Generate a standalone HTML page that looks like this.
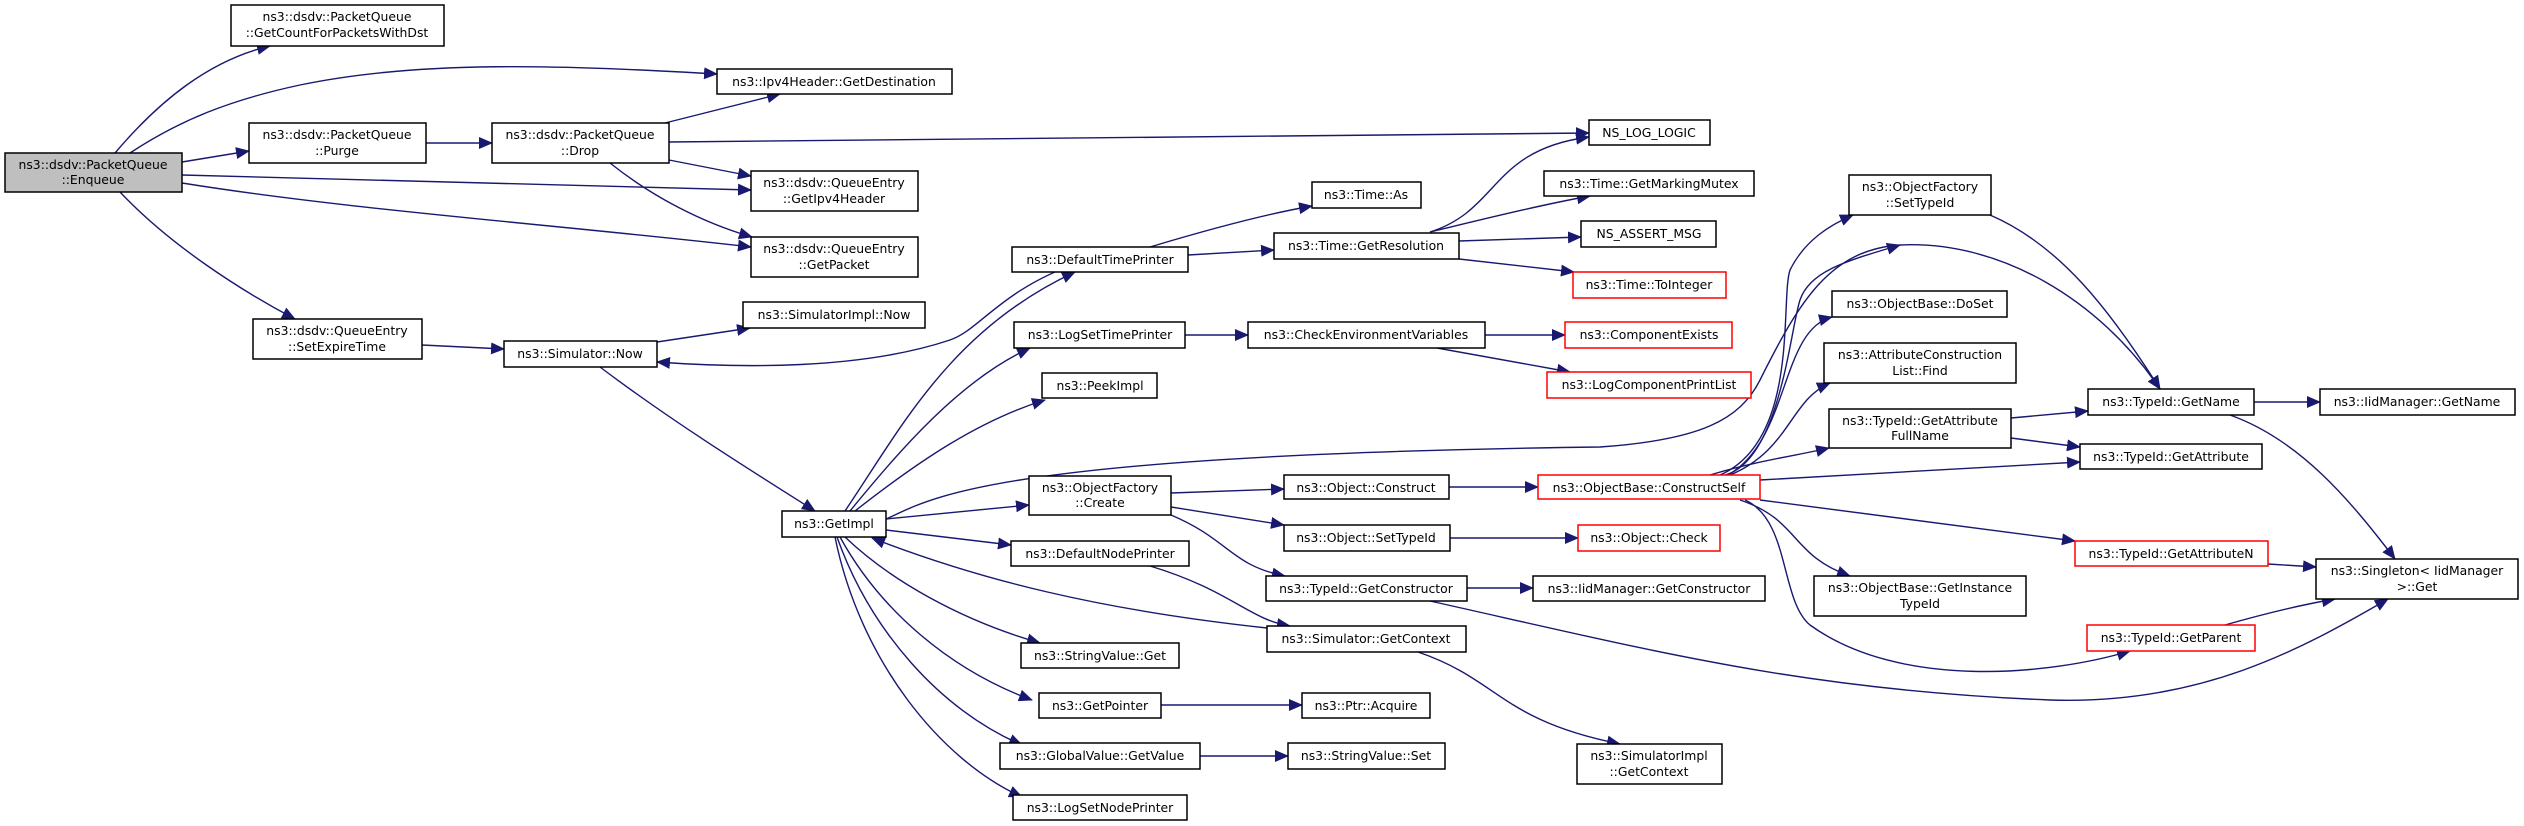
<!DOCTYPE html>
<html><head><meta charset="utf-8"><style>
html,body{margin:0;padding:0;background:#fff;}
svg{display:block;}
text{font-family:"DejaVu Sans","Liberation Sans",sans-serif;font-size:12.4px;fill:#000;text-anchor:middle;}
.n{fill:#fff;stroke:#000;stroke-width:1.5;}
.g{fill:#bfbfbf;stroke:#000;stroke-width:1.5;}
.r{fill:#fff;stroke:#ff0000;stroke-width:1.5;}
.e{fill:none;stroke:#191970;stroke-width:1.4;}
</style></head><body>
<svg width="2524" height="826" viewBox="0 0 2524 826" xmlns="http://www.w3.org/2000/svg">
<defs><marker id="a" markerUnits="userSpaceOnUse" markerWidth="14" markerHeight="12" refX="13" refY="6" orient="auto"><path d="M0,0 L14,6 L0,12 z" fill="#191970"/></marker></defs>
<g class="edges">
<path class="e" marker-end="url(#a)" d="M115,153 C160,100 210,60 270,46"/>
<path class="e" marker-end="url(#a)" d="M130,153 C180,120 230,100 300,85 C420,60 560,65 717,74"/>
<path class="e" marker-end="url(#a)" d="M182,162 L249,151"/>
<path class="e" marker-end="url(#a)" d="M182,175 L751,190"/>
<path class="e" marker-end="url(#a)" d="M182,183 C350,210 560,225 751,247"/>
<path class="e" marker-end="url(#a)" d="M120,192 C170,245 240,290 295,319"/>
<path class="e" marker-end="url(#a)" d="M426,143 L492,143"/>
<path class="e" marker-end="url(#a)" d="M665,123 L780,94"/>
<path class="e" marker-end="url(#a)" d="M669,142 L1589,133"/>
<path class="e" marker-end="url(#a)" d="M669,160 L751,176"/>
<path class="e" marker-end="url(#a)" d="M610,163 C650,195 700,222 752,237"/>
<path class="e" marker-end="url(#a)" d="M422,345 L504,349"/>
<path class="e" marker-end="url(#a)" d="M657,342 L750,328"/>
<path class="e" marker-end="url(#a)" d="M600,367 C670,420 750,470 815,511"/>
<path class="e" marker-end="url(#a)" d="M1080,262 C1000,290 980,330 950,340 C860,370 740,368 657,362"/>
<path class="e" marker-end="url(#a)" d="M845,511 C900,430 950,330 1075,272"/>
<path class="e" marker-end="url(#a)" d="M850,511 C900,450 960,380 1030,348"/>
<path class="e" marker-end="url(#a)" d="M855,511 C920,460 980,420 1045,400"/>
<path class="e" marker-end="url(#a)" d="M886,519 C930,500 980,455 1600,447 C1700,440 1740,420 1760,380 C1800,300 1830,250 1900,245 C2000,240 2100,300 2160,389"/>
<path class="e" marker-end="url(#a)" d="M886,519 L1029,505"/>
<path class="e" marker-end="url(#a)" d="M886,530 L1011,545"/>
<path class="e" marker-end="url(#a)" d="M1267,628 C1100,610 980,580 872,538"/>
<path class="e" marker-end="url(#a)" d="M845,537 C890,580 960,620 1040,643"/>
<path class="e" marker-end="url(#a)" d="M840,537 C880,610 950,670 1032,700"/>
<path class="e" marker-end="url(#a)" d="M837,537 C870,630 940,710 1022,745"/>
<path class="e" marker-end="url(#a)" d="M835,537 C860,660 940,760 1022,797"/>
<path class="e" marker-end="url(#a)" d="M1150,247 C1200,232 1260,215 1312,206"/>
<path class="e" marker-end="url(#a)" d="M1188,255 L1274,250"/>
<path class="e" marker-end="url(#a)" d="M1430,232 C1500,210 1490,150 1589,137"/>
<path class="e" marker-end="url(#a)" d="M1430,232 C1480,220 1540,205 1590,196"/>
<path class="e" marker-end="url(#a)" d="M1459,241 L1581,237"/>
<path class="e" marker-end="url(#a)" d="M1459,259 L1574,272"/>
<path class="e" marker-end="url(#a)" d="M1185,335 L1248,335"/>
<path class="e" marker-end="url(#a)" d="M1485,335 L1565,335"/>
<path class="e" marker-end="url(#a)" d="M1437,348 L1570,372"/>
<path class="e" marker-end="url(#a)" d="M1171,493 L1284,489"/>
<path class="e" marker-end="url(#a)" d="M1171,507 L1284,525"/>
<path class="e" marker-end="url(#a)" d="M1171,515 C1230,540 1230,565 1285,576"/>
<path class="e" marker-end="url(#a)" d="M1449,487 L1538,487"/>
<path class="e" marker-end="url(#a)" d="M1450,538 L1578,538"/>
<path class="e" marker-end="url(#a)" d="M1467,588 L1533,588"/>
<path class="e" marker-end="url(#a)" d="M1430,601 C1650,650 1800,690 2050,700 C2200,705 2300,650 2388,599"/>
<path class="e" marker-end="url(#a)" d="M1150,566 C1230,590 1250,620 1290,626"/>
<path class="e" marker-end="url(#a)" d="M1418,652 C1500,680 1500,720 1620,744"/>
<path class="e" marker-end="url(#a)" d="M1161,705 L1302,705"/>
<path class="e" marker-end="url(#a)" d="M1200,756 L1288,756"/>
<path class="e" marker-end="url(#a)" d="M1720,475 C1800,440 1780,300 1790,270 C1805,240 1830,225 1853,215"/>
<path class="e" marker-end="url(#a)" d="M1725,475 C1780,460 1790,330 1800,300 C1810,270 1850,260 1900,245"/>
<path class="e" marker-end="url(#a)" d="M1728,475 C1790,440 1780,330 1832,317"/>
<path class="e" marker-end="url(#a)" d="M1730,475 C1790,450 1790,400 1830,383"/>
<path class="e" marker-end="url(#a)" d="M1710,475 C1760,460 1800,455 1829,448"/>
<path class="e" marker-end="url(#a)" d="M1760,480 L2080,462"/>
<path class="e" marker-end="url(#a)" d="M1760,500 L2075,541"/>
<path class="e" marker-end="url(#a)" d="M1740,500 C1800,520 1790,555 1850,576"/>
<path class="e" marker-end="url(#a)" d="M1745,500 C1790,520 1780,600 1810,625 C1900,690 2050,675 2130,651"/>
<path class="e" marker-end="url(#a)" d="M1990,215 C2060,245 2110,310 2160,389"/>
<path class="e" marker-end="url(#a)" d="M2011,418 L2088,411"/>
<path class="e" marker-end="url(#a)" d="M2011,438 L2080,447"/>
<path class="e" marker-end="url(#a)" d="M2254,402 L2320,402"/>
<path class="e" marker-end="url(#a)" d="M2230,415 C2300,440 2350,500 2395,559"/>
<path class="e" marker-end="url(#a)" d="M2268,564 L2316,567"/>
<path class="e" marker-end="url(#a)" d="M2225,625 C2260,615 2300,605 2335,599"/>
</g>
<g>
<rect class="g" x="5" y="153" width="177" height="39"/><text x="93" y="169">ns3::dsdv::PacketQueue</text><text x="93" y="184">::Enqueue</text>
<rect class="n" x="231" y="5" width="213" height="41"/><text x="337" y="21">ns3::dsdv::PacketQueue</text><text x="337" y="37">::GetCountForPacketsWithDst</text>
<rect class="n" x="717" y="69" width="235" height="25"/><text x="834" y="86">ns3::Ipv4Header::GetDestination</text>
<rect class="n" x="249" y="123" width="177" height="40"/><text x="337" y="139">ns3::dsdv::PacketQueue</text><text x="337" y="155">::Purge</text>
<rect class="n" x="492" y="123" width="177" height="40"/><text x="580" y="139">ns3::dsdv::PacketQueue</text><text x="580" y="155">::Drop</text>
<rect class="n" x="751" y="171" width="167" height="40"/><text x="834" y="187">ns3::dsdv::QueueEntry</text><text x="834" y="203">::GetIpv4Header</text>
<rect class="n" x="751" y="237" width="167" height="40"/><text x="834" y="253">ns3::dsdv::QueueEntry</text><text x="834" y="269">::GetPacket</text>
<rect class="n" x="253" y="319" width="169" height="40"/><text x="337" y="335">ns3::dsdv::QueueEntry</text><text x="337" y="351">::SetExpireTime</text>
<rect class="n" x="743" y="302" width="182" height="26"/><text x="834" y="319">ns3::SimulatorImpl::Now</text>
<rect class="n" x="504" y="341" width="153" height="26"/><text x="580" y="358">ns3::Simulator::Now</text>
<rect class="n" x="782" y="511" width="104" height="26"/><text x="834" y="528">ns3::GetImpl</text>
<rect class="n" x="1589" y="120" width="121" height="25"/><text x="1649" y="137">NS_LOG_LOGIC</text>
<rect class="n" x="1312" y="182" width="109" height="26"/><text x="1366" y="199">ns3::Time::As</text>
<rect class="n" x="1544" y="171" width="210" height="25"/><text x="1649" y="188">ns3::Time::GetMarkingMutex</text>
<rect class="n" x="1012" y="247" width="176" height="25"/><text x="1100" y="264">ns3::DefaultTimePrinter</text>
<rect class="n" x="1274" y="233" width="185" height="26"/><text x="1366" y="250">ns3::Time::GetResolution</text>
<rect class="n" x="1581" y="221" width="135" height="26"/><text x="1649" y="238">NS_ASSERT_MSG</text>
<rect class="r" x="1573" y="272" width="153" height="26"/><text x="1649" y="289">ns3::Time::ToInteger</text>
<rect class="n" x="1014" y="322" width="171" height="26"/><text x="1100" y="339">ns3::LogSetTimePrinter</text>
<rect class="n" x="1248" y="322" width="237" height="26"/><text x="1366" y="339">ns3::CheckEnvironmentVariables</text>
<rect class="r" x="1565" y="322" width="167" height="26"/><text x="1649" y="339">ns3::ComponentExists</text>
<rect class="r" x="1547" y="372" width="204" height="26"/><text x="1649" y="389">ns3::LogComponentPrintList</text>
<rect class="n" x="1042" y="373" width="115" height="25"/><text x="1100" y="390">ns3::PeekImpl</text>
<rect class="n" x="1029" y="476" width="142" height="39"/><text x="1100" y="492">ns3::ObjectFactory</text><text x="1100" y="507">::Create</text>
<rect class="n" x="1284" y="475" width="165" height="24"/><text x="1366" y="492">ns3::Object::Construct</text>
<rect class="r" x="1538" y="475" width="222" height="24"/><text x="1649" y="492">ns3::ObjectBase::ConstructSelf</text>
<rect class="n" x="1284" y="525" width="166" height="26"/><text x="1366" y="542">ns3::Object::SetTypeId</text>
<rect class="r" x="1578" y="525" width="142" height="26"/><text x="1649" y="542">ns3::Object::Check</text>
<rect class="n" x="1011" y="541" width="178" height="25"/><text x="1100" y="558">ns3::DefaultNodePrinter</text>
<rect class="n" x="1266" y="576" width="201" height="25"/><text x="1366" y="593">ns3::TypeId::GetConstructor</text>
<rect class="n" x="1533" y="576" width="232" height="25"/><text x="1649" y="593">ns3::IidManager::GetConstructor</text>
<rect class="n" x="1267" y="626" width="199" height="26"/><text x="1366" y="643">ns3::Simulator::GetContext</text>
<rect class="n" x="1021" y="643" width="158" height="25"/><text x="1100" y="660">ns3::StringValue::Get</text>
<rect class="n" x="1039" y="693" width="122" height="25"/><text x="1100" y="710">ns3::GetPointer</text>
<rect class="n" x="1302" y="693" width="128" height="25"/><text x="1366" y="710">ns3::Ptr::Acquire</text>
<rect class="n" x="1000" y="743" width="200" height="26"/><text x="1100" y="760">ns3::GlobalValue::GetValue</text>
<rect class="n" x="1288" y="743" width="157" height="26"/><text x="1366" y="760">ns3::StringValue::Set</text>
<rect class="n" x="1013" y="795" width="174" height="25"/><text x="1100" y="812">ns3::LogSetNodePrinter</text>
<rect class="n" x="1577" y="744" width="145" height="40"/><text x="1649" y="760">ns3::SimulatorImpl</text><text x="1649" y="776">::GetContext</text>
<rect class="n" x="1849" y="175" width="142" height="40"/><text x="1920" y="191">ns3::ObjectFactory</text><text x="1920" y="207">::SetTypeId</text>
<rect class="n" x="1832" y="291" width="175" height="26"/><text x="1920" y="308">ns3::ObjectBase::DoSet</text>
<rect class="n" x="1824" y="343" width="192" height="40"/><text x="1920" y="359">ns3::AttributeConstruction</text><text x="1920" y="375">List::Find</text>
<rect class="n" x="1829" y="409" width="182" height="39"/><text x="1920" y="425">ns3::TypeId::GetAttribute</text><text x="1920" y="440">FullName</text>
<rect class="n" x="2088" y="389" width="166" height="26"/><text x="2171" y="406">ns3::TypeId::GetName</text>
<rect class="n" x="2320" y="389" width="195" height="26"/><text x="2417" y="406">ns3::IidManager::GetName</text>
<rect class="n" x="2080" y="444" width="182" height="25"/><text x="2171" y="461">ns3::TypeId::GetAttribute</text>
<rect class="r" x="2075" y="541" width="193" height="25"/><text x="2171" y="558">ns3::TypeId::GetAttributeN</text>
<rect class="n" x="2316" y="559" width="202" height="40"/><text x="2417" y="575">ns3::Singleton&lt; IidManager</text><text x="2417" y="591">&gt;::Get</text>
<rect class="n" x="1814" y="576" width="212" height="40"/><text x="1920" y="592">ns3::ObjectBase::GetInstance</text><text x="1920" y="608">TypeId</text>
<rect class="r" x="2087" y="625" width="168" height="26"/><text x="2171" y="642">ns3::TypeId::GetParent</text>
</g>
</svg>
</body></html>
